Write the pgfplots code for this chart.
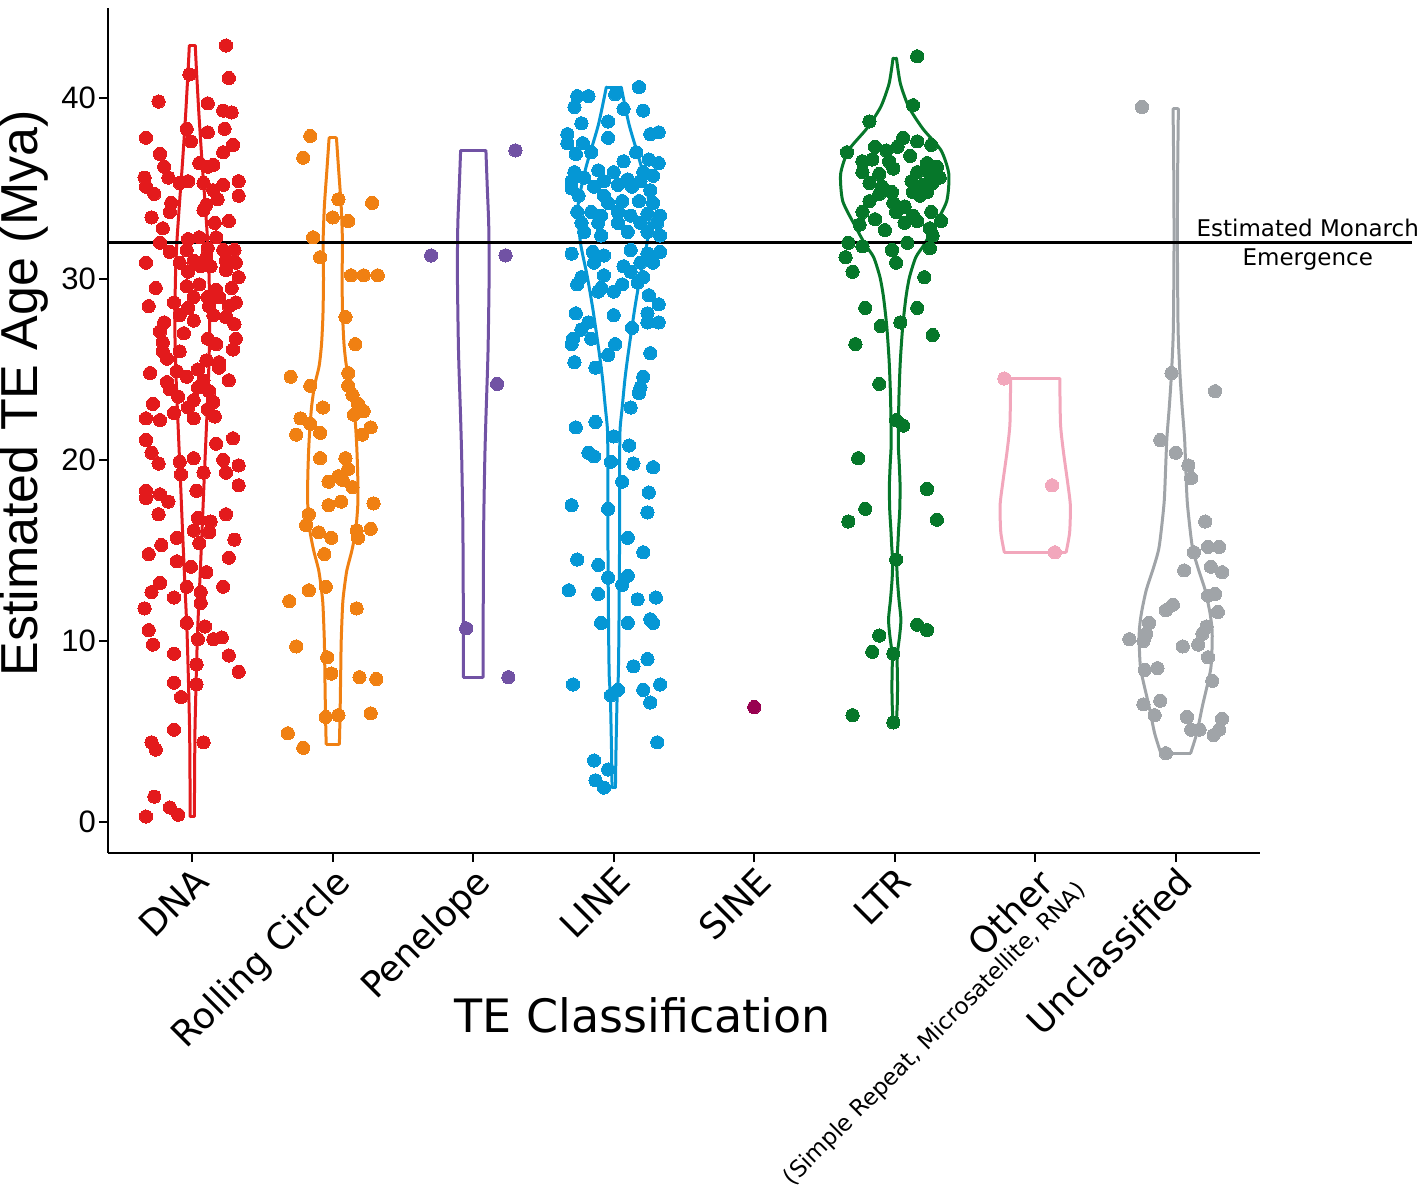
\documentclass[border=0pt]{standalone}
\usepackage{fontspec}
\setmainfont{DejaVu Sans}
\newfontfamily\arialf{Liberation Sans}
\usepackage{pgfplots}
\usepackage{pgfplotstable}
\pgfplotsset{compat=1.18}
\definecolor{cDNA}{RGB}{227,26,28}
\definecolor{cRC}{RGB}{240,128,18}
\definecolor{cPen}{RGB}{113,82,164}
\definecolor{cLINE}{RGB}{5,151,213}
\definecolor{cSINE}{RGB}{152,0,80}
\definecolor{cLTR}{RGB}{6,119,42}
\definecolor{cOth}{RGB}{242,167,188}
\definecolor{cUnc}{RGB}{160,164,168}

% ---------- jittered points ----------
\pgfplotstableread{
x y
0.67 21.1
0.71 20.4
0.76 19.8
0.91 19.9
0.92 19.2
1.01 20.1
1.08 19.3
1.03 18.3
1.17 20.9
1.22 20.0
1.24 19.3
1.33 19.7
1.29 21.2
1.33 18.6
0.67 18.3
0.67 17.9
0.77 18.1
0.83 17.7
0.76 17.0
0.89 15.7
1.04 16.8
1.13 16.6
1.12 16.0
1.01 16.1
1.05 15.4
1.24 17.0
1.30 15.6
0.78 15.3
0.69 14.8
1.26 14.6
0.89 14.4
0.99 14.1
1.10 13.8
0.96 13.0
1.06 12.7
0.87 12.4
0.77 13.2
0.71 12.7
0.66 11.8
1.22 13.0
1.06 12.1
0.96 11.0
1.09 10.8
0.69 10.6
0.72 9.8
1.04 10.1
1.15 10.1
1.21 10.2
0.87 9.3
1.26 9.2
1.33 8.3
1.03 8.7
0.87 7.7
1.03 7.6
0.92 6.9
0.87 5.1
0.71 4.4
0.74 4.0
1.08 4.4
0.73 1.4
0.67 0.3
0.84 0.8
0.90 0.4
1.24 42.9
1.26 41.1
0.98 41.3
0.76 39.8
1.11 39.7
1.22 39.3
1.28 39.2
0.67 37.8
0.96 38.3
0.99 37.6
1.11 38.1
1.23 38.3
1.29 37.4
0.77 36.9
0.80 36.2
0.83 35.6
1.05 36.4
1.11 36.2
1.15 36.3
1.22 37.0
0.66 35.6
0.67 35.1
0.73 34.7
0.91 35.3
0.97 35.4
1.08 35.3
1.15 34.9
1.22 35.2
1.33 35.4
1.33 34.6
1.18 34.4
1.10 34.1
0.85 34.2
0.84 33.7
0.71 33.4
0.79 32.8
1.08 33.8
1.16 33.1
1.26 33.2
0.77 32.0
0.97 32.2
1.05 32.3
1.17 32.3
0.84 31.5
0.96 31.6
1.11 31.7
1.22 31.6
1.30 31.6
0.67 30.9
0.91 30.9
1.01 31.0
1.10 31.2
1.24 31.0
1.31 30.9
0.97 30.4
1.06 30.7
1.13 30.7
1.24 30.5
1.33 30.1
0.74 29.5
0.96 29.6
1.05 29.7
1.17 29.4
1.28 29.5
1.01 29.0
1.11 29.0
1.19 29.0
0.69 28.5
0.87 28.7
0.97 28.4
1.12 28.5
1.26 28.5
1.31 28.7
0.91 28.0
1.01 27.7
1.15 28.0
1.24 27.9
0.80 27.6
1.30 27.5
0.77 27.1
0.94 27.0
1.11 26.7
1.31 26.7
0.79 26.5
1.17 26.4
0.79 26.0
0.91 26.0
1.29 26.1
1.10 25.5
1.19 25.4
0.82 25.6
0.70 24.8
0.89 24.9
1.04 25.0
1.19 25.1
0.96 24.6
1.08 24.4
1.26 24.4
0.82 24.3
0.84 23.9
1.04 24.0
1.12 23.8
0.90 23.5
1.01 23.3
1.15 23.2
0.72 23.1
0.97 22.9
1.11 22.8
0.87 22.6
0.67 22.3
0.77 22.2
1.01 22.3
1.16 22.4
}\ptDNA

\pgfplotstableread{
x y
1.84 37.9
1.79 36.7
2.04 34.4
2.28 34.2
2.00 33.4
2.11 33.2
1.86 32.3
1.91 31.2
2.13 30.2
2.22 30.2
2.32 30.2
2.09 27.9
2.16 26.4
1.70 24.6
1.84 24.1
2.11 24.8
2.11 24.1
2.14 23.6
2.18 23.1
2.22 22.7
2.15 22.5
1.93 22.9
1.77 22.3
1.74 21.4
1.84 22.0
1.91 21.5
2.27 21.8
2.21 21.4
1.91 20.1
2.09 20.1
2.11 19.5
1.97 18.8
2.04 19.1
2.07 18.9
2.14 18.5
1.97 17.5
2.06 17.7
2.29 17.6
1.83 17.0
1.81 16.4
1.90 16.0
1.99 15.7
2.17 16.1
2.18 15.7
2.27 16.2
1.94 14.8
1.83 12.8
1.69 12.2
1.95 13.0
2.17 11.8
1.74 9.7
1.96 9.1
1.99 8.2
2.19 8.0
2.31 7.9
1.95 5.8
2.04 5.9
2.27 6.0
1.68 4.9
1.79 4.1
}\ptRC

\pgfplotstableread{
x y
2.70 31.3
3.23 31.3
3.30 37.1
3.17 24.2
2.95 10.7
3.25 8.0
}\ptPen

\pgfplotstableread{
x y
5.00 6.35
}\ptSINE

\pgfplotstableread{
x y
4.18 40.6
3.74 40.1
3.82 40.1
3.72 39.5
4.01 40.2
4.07 39.4
4.21 39.3
3.77 38.6
3.96 38.7
3.67 38.0
3.96 37.8
4.26 38.0
4.32 38.1
3.67 37.5
3.78 37.5
3.73 36.9
3.84 37.0
4.16 37.0
4.07 36.5
4.25 36.6
4.32 36.4
3.72 35.9
3.89 36.0
4.00 35.9
4.21 35.9
4.28 35.7
3.70 35.4
3.79 35.6
3.93 35.4
4.10 35.5
4.19 35.4
3.70 35.0
3.86 35.1
4.03 35.2
4.13 35.1
4.26 34.9
3.75 34.6
3.93 34.6
3.96 34.2
4.06 34.3
4.18 34.3
4.28 34.2
3.74 33.7
3.84 33.7
3.91 33.5
4.03 33.7
4.12 33.5
4.24 33.6
4.33 33.5
3.77 33.1
3.89 33.1
4.03 33.1
4.19 33.1
4.31 33.1
3.79 32.6
3.91 32.4
4.10 32.6
4.24 32.6
4.33 32.4
3.70 31.4
3.85 31.5
3.93 31.3
4.12 31.6
4.24 31.4
4.33 31.5
3.86 30.9
4.07 30.7
4.19 30.9
4.28 30.9
3.77 30.1
3.93 30.2
4.12 30.4
4.21 30.1
3.74 29.7
3.91 29.5
4.00 29.3
4.06 29.7
4.17 29.8
4.25 29.1
4.32 28.6
3.89 29.3
3.73 28.1
4.00 28.0
4.24 28.1
4.32 27.6
3.82 27.6
3.77 27.2
3.71 26.7
3.84 26.7
4.13 27.3
4.24 27.6
3.70 26.4
4.01 26.4
3.96 25.8
4.26 25.9
3.72 25.4
3.87 25.1
4.21 24.6
4.19 24.0
4.18 23.7
4.12 22.9
3.73 21.8
3.87 22.1
4.00 21.3
4.11 20.8
3.82 20.4
3.86 20.2
3.98 19.9
4.14 19.8
4.28 19.6
4.06 18.8
4.25 18.2
3.70 17.5
3.96 17.3
4.24 17.1
4.10 15.7
4.21 14.9
3.74 14.5
3.89 14.2
3.96 13.5
4.10 13.6
4.06 13.1
3.68 12.8
3.89 12.6
4.17 12.3
4.30 12.4
3.91 11.0
4.10 11.0
4.26 11.2
4.28 11.0
4.14 8.6
4.24 9.0
3.71 7.6
4.03 7.3
3.98 7.0
4.21 7.3
4.33 7.6
4.26 6.6
4.31 4.4
3.86 3.4
3.96 2.9
3.87 2.3
3.93 1.9
}\ptLINE

\pgfplotstableread{
x y
6.16 42.3
6.13 39.6
5.82 38.7
5.66 37.0
5.86 37.3
5.94 37.1
6.02 37.3
6.06 37.8
6.16 37.6
6.26 37.4
5.77 36.5
5.84 36.6
5.96 36.5
6.11 36.8
6.23 36.4
6.30 36.2
5.77 35.9
5.89 35.8
5.99 36.1
6.16 35.9
6.25 35.8
6.32 35.6
5.82 35.3
5.91 35.1
6.12 35.4
6.20 35.2
6.27 35.3
5.89 34.7
5.98 34.8
6.13 34.8
6.18 34.6
6.23 34.8
5.82 34.3
5.99 34.2
6.07 34.0
5.77 33.7
5.86 33.3
6.01 33.7
6.13 33.5
6.26 33.7
6.33 33.2
5.75 33.0
5.93 32.7
6.07 33.1
6.16 33.2
6.25 32.8
6.27 32.4
5.67 32.0
5.77 31.8
5.98 31.6
6.09 32.0
6.25 31.7
5.65 31.2
6.01 30.9
5.70 30.4
6.21 30.1
5.79 28.4
6.16 28.4
5.90 27.4
6.04 27.6
6.27 26.9
5.72 26.4
5.89 24.2
6.01 22.2
6.06 21.9
5.74 20.1
6.23 18.4
5.79 17.3
5.67 16.6
6.30 16.7
6.01 14.5
6.16 10.9
6.23 10.6
5.89 10.3
5.84 9.4
5.99 9.3
5.70 5.9
5.99 5.5
}\ptLTR

\pgfplotstableread{
x y
6.78 24.5
7.12 18.6
7.14 14.9
}\ptOth

\pgfplotstableread{
x y
7.76 39.5
7.97 24.8
8.28 23.8
7.89 21.1
8.00 20.4
8.09 19.7
8.11 19.0
8.21 16.6
8.13 14.9
8.23 15.2
8.31 15.2
8.25 14.1
8.33 13.8
8.06 13.9
7.98 12.0
7.93 11.7
8.23 12.5
8.28 12.6
8.30 11.6
7.81 11.0
7.79 10.4
7.67 10.1
7.77 10.0
8.22 10.8
8.19 10.4
8.16 9.8
8.05 9.7
8.23 9.1
7.78 8.4
7.87 8.5
8.26 7.8
7.77 6.5
7.89 6.7
7.85 5.9
8.08 5.8
8.11 5.1
8.17 5.1
8.33 5.7
8.27 4.8
8.31 5.1
7.93 3.8
}\ptUnc

% ---------- violin half-widths ----------
\pgfplotstableread{
y w
0.3 0.015
2 0.016
5 0.019
8 0.028
10.6 0.038
13 0.052
16 0.069
19 0.085
21.7 0.10
24.5 0.115
27.2 0.124
30 0.12
32 0.11
34.3 0.09
36.4 0.07
39 0.048
41.5 0.03
42.9 0.021
}\vDNA

\pgfplotstableread{
y w
4.3 0.047
6 0.052
8 0.056
10 0.06
12 0.07
12.8 0.08
13.9 0.10
15 0.136
16.1 0.163
17.5 0.178
19 0.178
20.5 0.172
21.8 0.163
23 0.15
24.1 0.13
25.2 0.097
26.4 0.08
28 0.07
30 0.066
32 0.069
34 0.06
36 0.042
37.8 0.026
}\vRC

\pgfplotstableread{
y w
8.0 0.07
12 0.071
16.3 0.074
20 0.082
22.3 0.09
26 0.105
30.3 0.113
33 0.11
35 0.1
37.1 0.09
}\vPen

\pgfplotstableread{
y w
1.9 0.012
4 0.016
6.9 0.024
8 0.032
10 0.036
15 0.041
20 0.042
21.7 0.045
22.9 0.06
24.5 0.08
26 0.105
28.4 0.15
30.2 0.19
32 0.237
34 0.255
36.1 0.2
38.5 0.11
40.6 0.053
}\vLINE

\pgfplotstableread{
y w
5.5 0.012
6.5 0.018
7.5 0.02
8.5 0.018
9.2 0.017
10.3 0.035
11.2 0.044
12.3 0.03
13.5 0.018
14.4 0.015
15.3 0.022
16.1 0.027
17.3 0.036
18.6 0.038
19.8 0.032
21 0.025
23.5 0.03
25.5 0.04
27.4 0.057
29 0.08
30.1 0.105
31.2 0.15
31.9 0.21
32.9 0.28
34.3 0.37
35.8 0.385
37.1 0.33
38.3 0.2
39.5 0.1
40.8 0.04
42.2 0.012
}\vLTR

\pgfplotstableread{
y w
14.9 0.22
16 0.245
17.5 0.25
18.8 0.23
20.5 0.2
22 0.18
24.5 0.175
}\vOth

\pgfplotstableread{
y w
3.8 0.106
4.9 0.15
6.4 0.19
8.5 0.25
10.4 0.26
11.5 0.245
12.8 0.21
14 0.16
15.2 0.118
17.6 0.083
19.5 0.072
21.2 0.063
23 0.045
24.8 0.03
27.2 0.017
32 0.012
36 0.014
39.4 0.019
}\vUnc

\newcommand{\violin}[3]{%
  \addplot[#3, line width=3pt, smooth, tension=0.4, line join=round, line cap=round] table[x expr={#1+\thisrow{w}}, y=y]{#2};
  \addplot[#3, line width=3pt, smooth, tension=0.4, line join=round, line cap=round] table[x expr={#1-\thisrow{w}}, y=y]{#2};
}
\newcommand{\pts}[2]{%
  \addplot[only marks, mark=*, mark size=6.6pt, mark options={draw=#2, fill=#2, line width=0pt}] table[x=x, y=y]{#1};
}

\begin{document}
\begin{tikzpicture}
\useasboundingbox (-108pt,-335pt) rectangle (1316pt,853pt);
\begin{axis}[
  at={(0pt,0pt)}, anchor=south west,
  scale only axis, width=1152pt, height=845pt,
  xmin=0.4, xmax=8.6, ymin=-1.713, ymax=44.97,
  axis x line*=bottom, axis y line*=left,
  axis line style={-, line width=2pt, black},
  tick style={line width=2pt, black},
  tick align=outside, major tick length=9pt,
  xtick={1,2,3,4,5,6,7,8},
  xticklabels={DNA, Rolling Circle, Penelope, LINE, SINE, LTR,
    {\begin{tabular}{@{}r@{}}Other\\[-16pt]{\fontsize{23}{27}\selectfont (Simple Repeat, Microsatellite, RNA)\hspace*{-18pt}}\end{tabular}},
    Unclassified},
  ytick={0,10,20,30,40},
  /pgf/number format/assume math mode=true,
  x tick label style={rotate=45, anchor=north east, inner sep=2pt,
    font=\fontsize{36}{42}\selectfont},
  y tick label style={font=\arialf\fontsize{31}{36}\selectfont, inner sep=3pt},
  xlabel={TE Classification},
  xlabel style={at={(axis description cs:0.464,-0.1917)}, anchor=center,
    font=\fontsize{46}{52}\selectfont},
  ylabel={Estimated TE Age (Mya)},
  ylabel style={at={(axis description cs:-0.0730,0.544)}, anchor=center,
    font=\arialf\fontsize{52}{60}\selectfont},
  clip=false,
]
% violins
\violin{1}{\vDNA}{cDNA}
\addplot[cDNA, line width=3pt] coordinates {(0.985,0.3) (1.015,0.3)};
\addplot[cDNA, line width=3pt] coordinates {(0.979,42.9) (1.021,42.9)};
\violin{2}{\vRC}{cRC}
\addplot[cRC, line width=3pt] coordinates {(1.953,4.3) (2.047,4.3)};
\addplot[cRC, line width=3pt] coordinates {(1.974,37.8) (2.026,37.8)};
\violin{3}{\vPen}{cPen}
\addplot[cPen, line width=3pt] coordinates {(2.93,8.0) (3.07,8.0)};
\addplot[cPen, line width=3pt] coordinates {(2.91,37.1) (3.09,37.1)};
\violin{4}{\vLINE}{cLINE}
\addplot[cLINE, line width=3pt] coordinates {(3.988,1.9) (4.012,1.9)};
\addplot[cLINE, line width=3pt] coordinates {(3.947,40.6) (4.053,40.6)};
\violin{6}{\vLTR}{cLTR}
\addplot[cLTR, line width=3pt] coordinates {(5.988,5.5) (6.012,5.5)};
\addplot[cLTR, line width=3pt] coordinates {(5.988,42.2) (6.012,42.2)};
\violin{7}{\vOth}{cOth}
\addplot[cOth, line width=3pt] coordinates {(6.78,14.9) (7.22,14.9)};
\addplot[cOth, line width=3pt] coordinates {(6.825,24.5) (7.175,24.5)};
\violin{8}{\vUnc}{cUnc}
\addplot[cUnc, line width=3pt] coordinates {(7.894,3.8) (8.106,3.8)};
\addplot[cUnc, line width=3pt] coordinates {(7.981,39.4) (8.019,39.4)};
% points
\pts{\ptDNA}{cDNA}
\pts{\ptRC}{cRC}
\pts{\ptPen}{cPen}
\pts{\ptLINE}{cLINE}
\pts{\ptSINE}{cSINE}
\pts{\ptLTR}{cLTR}
\pts{\ptOth}{cOth}
\pts{\ptUnc}{cUnc}
% monarch emergence line
\addplot[black, line width=3pt] coordinates {(0.4,32) (9.68,32)};
\node[align=center, font=\fontsize{23}{29}\selectfont, anchor=center, inner sep=0pt]
  at (axis cs:8.94,31.9) {Estimated Monarch\\Emergence};
\end{axis}
\end{tikzpicture}
\end{document}
